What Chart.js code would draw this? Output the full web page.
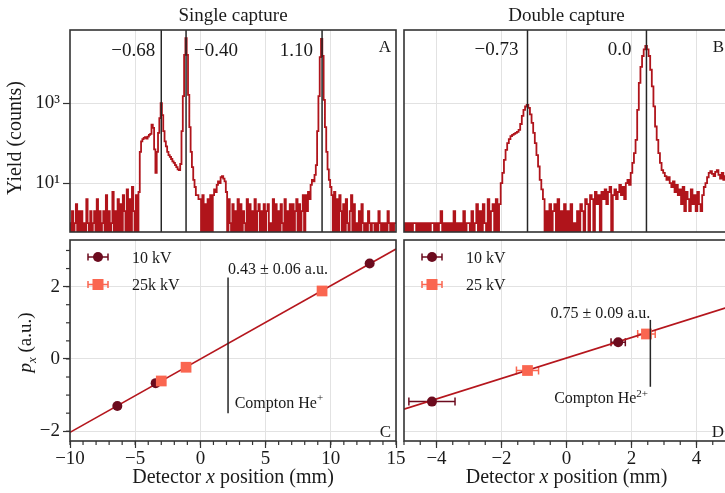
<!DOCTYPE html>
<html>
<head>
<meta charset="utf-8">
<script src="https://cdn.jsdelivr.net/npm/chart.js@4.4.1/dist/chart.umd.min.js"></script>
<style>
  html, body { margin: 0; padding: 0; background: #fff; overflow: hidden; }
  #wrap { position: relative; width: 725px; height: 493px; overflow: hidden; }
  #wrap canvas { position: absolute; left: 0; top: 0; }
</style>
</head>
<body>
<div id="wrap">
  <canvas id="chartA" width="740" height="493"></canvas>
  <canvas id="chartB" width="740" height="493"></canvas>
  <canvas id="chartC" width="740" height="493"></canvas>
  <canvas id="chartD" width="740" height="493"></canvas>
</div>
<script>
// ---- histogram data: first bin centred on binStart ----
const binWidthA = 0.1;
const binStartA = -10;
const countsA = [
  1, 0, 2, 0, 1, 3, 0, 2, 0, 2,            // -10
  0, 1, 0, 4, 1, 0, 2, 0, 1, 2,            // -9
  0, 4, 0, 2, 0, 1, 2, 0, 5, 0,            // -8
  2, 0, 1, 6, 0, 2, 0, 4, 0, 3,            // -7
  0, 5, 2, 0, 7, 0, 4, 0, 8, 2,            // -6
  0, 5, 0, 6, 60, 110, 125, 135, 140, 130, // -5
  145, 160, 170, 290, 240, 70, 18, 60, 180, 420, // -4
  1000, 500, 200, 110, 83, 60, 50, 45, 40, 35,   // -3
  32, 28, 25, 22, 21, 30, 200, 1500, 16000, 42000, // -2
  16000, 1600, 250, 60, 25, 12, 8, 5, 5, 4,  // -1
  4, 0, 5, 0, 3, 0, 4, 0, 5, 0,            // 0
  5, 7, 6, 9, 11, 10, 14, 15, 13, 11,      // 1
  6, 0, 4, 1, 0, 3, 0, 2, 0, 4,            // 2
  0, 3, 0, 2, 1, 0, 4, 0, 3, 0,            // 3
  2, 0, 4, 0, 2, 3, 0, 2, 0, 3,            // 4
  0, 2, 3, 0, 1, 0, 4, 0, 3, 0,            // 5
  2, 0, 3, 1, 0, 4, 0, 2, 0, 3,            // 6
  0, 3, 0, 2, 4, 0, 3, 0, 2, 5,            // 7
  0, 5, 2, 6, 4, 9, 12, 11, 16, 28,        // 8
  200, 1500, 14000, 40000, 15000, 1200, 250, 60, 22, 12, // 9
  8, 5, 0, 6, 0, 4, 0, 5, 2, 0,            // 10
  3, 0, 4, 1, 0, 2, 5, 0, 3, 0,            // 11
  1, 0, 2, 0, 3, 1, 0, 1, 0, 2,            // 12
  1, 0, 1, 1, 0, 1, 0, 2, 1, 0,            // 13
  1, 0, 1, 0, 2, 1, 0, 1, 0, 1, 1          // 14 .. 15
];

const binWidthB = 0.05;
const binStartB = -5;
const countsB = [
  1, 0, 1, 0, 1, 0, 1, 1, 0, 1, 0, 1, 0, 1, 0, 1, 0, 1, 1, 0,   // -5
  1, 0, 1, 2, 0, 1, 0, 1, 0, 1, 0, 2, 0, 1, 0, 1, 0, 2, 0, 1,   // -4
  1, 0, 2, 0, 1, 3, 0, 2, 0, 3, 1, 0, 4, 0, 2, 3, 0, 4, 0, 3,   // -3
  10, 18, 38, 68, 100, 125, 150, 160, 170, 180,
  190, 215, 300, 480, 680, 820, 900, 760, 520, 320,              // -2
  180, 100, 50, 26, 12, 7, 4, 0, 2, 0, 3, 0, 2, 3, 0, 4, 0, 2, 0, 3, // -1
  0, 2, 0, 3, 0, 1, 0, 2, 0, 3, 2, 0, 4, 3, 0, 5, 4, 0, 6, 3,   // 0
  5, 0, 6, 4, 7, 3, 6, 8, 0, 5, 7, 4, 6, 9, 5, 8, 4, 10, 12, 9, // 1
  18, 32, 56, 120, 680, 3200, 8000, 15000, 22000, 27000,
  22000, 15000, 6800, 2600, 830, 260, 120, 56, 32, 21,           // 2
  18, 15, 12, 14, 10, 8, 11, 6, 9, 5, 7, 3, 8, 2, 6, 4, 2, 7, 3, 5, // 3
  2, 6, 3, 2, 5, 8, 10, 14, 18, 20, 17, 15, 19, 21, 16, 13, 18, 12, 15, 11, // 4
  10                                                             // 5
];

// peak positions (mm) and their p_x labels
const peaksA = [-3.0, -1.1, 9.33];
const peakLabelsA = ['\u22120.68', '\u22120.40', '1.10'];
const peaksB = [-1.2, 2.46];
const peakLabelsB = ['\u22120.73', '0.0'];

// axis ticks
const logTicks = [10, 1000];
const logTickLabels = ['10\u00b9', '10\u00b3'];
const gridXA = [-5, 0, 5, 10];
const ticksCx = [-10, -5, 0, 5, 10, 15];
const ticksDx = [-4, -2, 0, 2, 4];
const ticksPy = [-2, 0, 2];

// ---- calibration, single capture ----
const c10x = [-6.37, -3.43, 12.98];
const c10y = [-1.30, -0.67, 2.64];
const c25x = [-3.0, -1.1, 9.33];
const c25y = [-0.61, -0.23, 1.88];
const fitCx = [-10, 15];
const fitCy = [-2.03, 3.04];
const comptonCx = 2.12;
const comptonCy = [-1.5, 2.25];

// ---- calibration, double capture ----
const d10x = [-4.14, 1.59];
const d10y = [-1.18, 0.46];
const d10err = [0.71, 0.22];
const d25x = [-1.2, 2.46];
const d25y = [-0.32, 0.69];
const d25err = [0.34, 0.27];
const fitDx = [-5, 5];
const fitDy = [-1.39, 1.44];
const comptonDx = 2.58;
const comptonDy = [-0.77, 1.08];

// ---- styling ----
const FONT = '"Liberation Serif", "Times New Roman", serif';
const INK = '#1a1a1a';
const FRAME = '#333333';
const GRID = '#e2e2e2';
const HIST = '#b0141b';
const FIT = '#b5161d';
const DARK = '#6c0b1e';
const SALMON = '#fa6650';
const LOG_MIN = 0.6;

Chart.defaults.font.family = FONT;
Chart.defaults.color = INK;
Chart.defaults.animation = false;
Chart.defaults.responsive = false;
Chart.defaults.devicePixelRatio = 1;
Chart.defaults.events = [];
Chart.defaults.plugins.legend.display = false;
Chart.defaults.plugins.tooltip.enabled = false;

const fmt = v => (v < 0 ? '\u2212' : '') + Math.abs(v);
const pts = (xs, ys) => xs.map((x, i) => ({x: x, y: ys[i]}));

function fontFor(flags, size) {
  const small = flags.includes('sub') || flags.includes('sup');
  return (flags.includes('i') ? 'italic ' : '') + (small ? Math.round(size * 0.68) : size) + 'px ' + FONT;
}

// draws a run of text pieces: [text, 'i' | 'sub' | 'sup' ...]
function drawRich(ctx, parts, x, y, align, size) {
  let w = 0;
  parts.forEach(([t, f]) => { ctx.font = fontFor(f, size); w += ctx.measureText(t).width; });
  let cx = align === 'right' ? x - w : align === 'center' ? x - w / 2 : x;
  ctx.textAlign = 'left';
  ctx.textBaseline = 'alphabetic';
  parts.forEach(([t, f]) => {
    ctx.font = fontFor(f, size);
    const dy = f.includes('sup') ? -size * 0.4 : f.includes('sub') ? size * 0.25 : 0;
    ctx.fillText(t, cx, y + dy);
    cx += ctx.measureText(t).width;
  });
}

function minorRange(from, to, step) {
  const out = [];
  for (let v = from; v <= to + 1e-9; v += step) out.push(v);
  return out;
}

const panelDecor = {
  id: 'panelDecor',
  beforeDatasetsDraw(chart, args, o) {
    const {ctx} = chart;
    const sx = chart.scales.x, sy = chart.scales.y;
    ctx.save();
    ctx.lineWidth = 1.5;
    (o.errorBars || []).forEach(set => {
      ctx.strokeStyle = set.color;
      set.x.forEach((xv, i) => {
        const x0 = sx.getPixelForValue(xv - set.err[i]);
        const x1 = sx.getPixelForValue(xv + set.err[i]);
        const py = sy.getPixelForValue(set.y[i]);
        ctx.beginPath();
        ctx.moveTo(x0, py); ctx.lineTo(x1, py);
        ctx.moveTo(x0, py - 4); ctx.lineTo(x0, py + 4);
        ctx.moveTo(x1, py - 4); ctx.lineTo(x1, py + 4);
        ctx.stroke();
      });
    });
    ctx.restore();
  },
  afterDatasetsDraw(chart, args, o) {
    const {ctx, chartArea: a} = chart;
    const sx = chart.scales.x, sy = chart.scales.y;
    ctx.save();

    // vertical marker lines
    ctx.strokeStyle = '#262626';
    ctx.lineWidth = 1.5;
    (o.vlines || []).forEach(v => {
      const px = sx.getPixelForValue(v.x);
      const top = v.y1 === undefined ? a.top : sy.getPixelForValue(v.y1);
      const bot = v.y0 === undefined ? a.bottom : sy.getPixelForValue(v.y0);
      ctx.beginPath(); ctx.moveTo(px, top); ctx.lineTo(px, bot); ctx.stroke();
    });

    // minor ticks
    ctx.strokeStyle = FRAME;
    ctx.lineWidth = 1.2;
    if (o.minorX) minorRange(...o.minorX).forEach(v => {
      const px = sx.getPixelForValue(v);
      ctx.beginPath(); ctx.moveTo(px, a.bottom); ctx.lineTo(px, a.bottom + 4); ctx.stroke();
    });
    if (o.minorY) minorRange(...o.minorY).forEach(v => {
      const py = sy.getPixelForValue(v);
      ctx.beginPath(); ctx.moveTo(a.left - 4, py); ctx.lineTo(a.left, py); ctx.stroke();
    });

    // frame
    ctx.lineWidth = 1.6;
    ctx.strokeRect(a.left, a.top, a.right - a.left, a.bottom - a.top);

    // legend with error-bar markers
    (o.legend || []).forEach((it, i) => {
      const cx = a.left + 28, cy = a.top + 17 + i * 27.5;
      ctx.strokeStyle = it.color; ctx.fillStyle = it.color; ctx.lineWidth = 1.5;
      ctx.beginPath();
      ctx.moveTo(cx - 10, cy); ctx.lineTo(cx + 10, cy);
      ctx.moveTo(cx - 10, cy - 3.5); ctx.lineTo(cx - 10, cy + 3.5);
      ctx.moveTo(cx + 10, cy - 3.5); ctx.lineTo(cx + 10, cy + 3.5);
      ctx.stroke();
      if (it.shape === 'rect') ctx.fillRect(cx - 5.5, cy - 5.5, 11, 11);
      else { ctx.beginPath(); ctx.arc(cx, cy, 5, 0, Math.PI * 2); ctx.fill(); }
      ctx.fillStyle = INK;
      drawRich(ctx, [[it.label, '']], a.left + 62, cy + 5.5, 'left', 16);
    });

    // text labels
    ctx.fillStyle = INK;
    (o.texts || []).forEach(t => {
      let x, y;
      if (t.abs) {
        [x, y] = t.abs;
      } else {
        x = t.x !== undefined ? sx.getPixelForValue(t.x) : (t.edgeX === 'right' ? a.right : a.left);
        y = t.y !== undefined ? sy.getPixelForValue(t.y) : (t.edgeY === 'bottom' ? a.bottom : a.top);
        x += t.dx || 0;
        y += t.dy || 0;
      }
      if (t.rotate) {
        ctx.save();
        ctx.translate(x, y);
        ctx.rotate(-Math.PI / 2);
        drawRich(ctx, t.parts, 0, 0, 'center', t.size);
        ctx.restore();
      } else {
        drawRich(ctx, t.parts, x, y, t.align || 'left', t.size);
      }
    });
    ctx.restore();
  }
};

// empty bins can't sit on a log axis: send them below the floor so the step drops out of the frame
function histDataset(counts, start, width) {
  return {
    data: counts.map((c, i) => ({x: start + i * width, y: c > 0 ? c : LOG_MIN / 4})),
    borderColor: HIST,
    borderWidth: 1.8,
    pointRadius: 0,
    stepped: 'middle',
    fill: false,
    clip: 0
  };
}

function histScales(xMin, xMax, xGrid, showY) {
  return {
    x: {
      type: 'linear', min: xMin, max: xMax,
      afterBuildTicks: s => { s.ticks = xGrid.map(v => ({value: v})); },
      ticks: {display: false},
      grid: {color: GRID, drawTicks: false},
      border: {display: false},
      afterFit: s => { s.height = 0; }
    },
    y: {
      type: 'logarithmic', min: LOG_MIN, max: 67000,
      afterBuildTicks: s => { s.ticks = logTicks.map(v => ({value: v})); },
      ticks: {
        display: showY,
        callback: v => logTickLabels[logTicks.indexOf(v)],
        font: {size: 19, family: FONT}, color: INK, padding: 3
      },
      grid: {color: GRID, drawTicks: showY, tickLength: 7, tickColor: FRAME, tickWidth: 1.2},
      border: {display: false},
      afterFit: s => { s.width = showY ? 70 : 0; }
    }
  };
}

function calibScales(xMin, xMax, xTicks, showY) {
  return {
    x: {
      type: 'linear', min: xMin, max: xMax,
      afterBuildTicks: s => { s.ticks = xTicks.map(v => ({value: v})); },
      ticks: {callback: fmt, font: {size: 19, family: FONT}, color: INK, padding: 0, maxRotation: 0, autoSkip: false},
      grid: {color: GRID, tickLength: 7, tickColor: FRAME, tickWidth: 1.2},
      border: {display: false},
      afterFit: s => { s.height = 52; }
    },
    y: {
      type: 'linear', min: -2.27, max: 3.29,
      afterBuildTicks: s => { s.ticks = ticksPy.map(v => ({value: v})); },
      ticks: {display: showY, callback: fmt, font: {size: 19, family: FONT}, color: INK, padding: 3},
      grid: {color: GRID, drawTicks: showY, tickLength: 7, tickColor: FRAME, tickWidth: 1.2},
      border: {display: false},
      afterFit: s => { s.width = showY ? 70 : 0; }
    }
  };
}

// ---- A: single capture spectrum ----
new Chart(document.getElementById('chartA'), {
  type: 'line',
  data: {datasets: [histDataset(countsA, binStartA, binWidthA)]},
  options: {
    layout: {padding: {left: 0, top: 30, right: 344, bottom: 261}},
    scales: histScales(-10, 15, gridXA, true),
    plugins: {
      panelDecor: {
        vlines: peaksA.map(x => ({x: x})),
        texts: [
          {abs: [233, 21], parts: [['Single capture', '']], align: 'center', size: 19},
          {abs: [20.6, 138], parts: [['Yield (counts)', '']], rotate: true, size: 20},
          {x: peaksA[0], dx: -6, dy: 26, parts: [[peakLabelsA[0], '']], align: 'right', size: 19},
          {x: peaksA[1], dx: 8, dy: 26, parts: [[peakLabelsA[1], '']], align: 'left', size: 19},
          {x: peaksA[2], dx: -9, dy: 26, parts: [[peakLabelsA[2], '']], align: 'right', size: 19},
          {edgeX: 'right', dx: -5, dy: 22, parts: [['A', '']], align: 'right', size: 17}
        ]
      }
    }
  },
  plugins: [panelDecor]
});

// ---- B: double capture spectrum ----
new Chart(document.getElementById('chartB'), {
  type: 'line',
  data: {datasets: [histDataset(countsB, binStartB, binWidthB)]},
  options: {
    layout: {padding: {left: 404, top: 30, right: 11, bottom: 261}},
    scales: histScales(-5, 5, ticksDx, false),
    plugins: {
      panelDecor: {
        vlines: peaksB.map(x => ({x: x})),
        texts: [
          {abs: [566.5, 21], parts: [['Double capture', '']], align: 'center', size: 19},
          {x: peaksB[0], dx: -9, dy: 25, parts: [[peakLabelsB[0], '']], align: 'right', size: 19},
          {x: peaksB[1], dx: -15, dy: 25, parts: [[peakLabelsB[1], '']], align: 'right', size: 19},
          {edgeX: 'right', dx: -5, dy: 22, parts: [['B', '']], align: 'right', size: 17}
        ]
      }
    }
  },
  plugins: [panelDecor]
});

// ---- C: p_x calibration, single capture ----
new Chart(document.getElementById('chartC'), {
  type: 'scatter',
  data: {
    datasets: [
      {data: pts(c25x, c25y), pointStyle: 'rect', pointRadius: 7.6, backgroundColor: SALMON, borderWidth: 0, order: 1},
      {data: pts(c10x, c10y), pointStyle: 'circle', pointRadius: 5, backgroundColor: DARK, borderWidth: 0, order: 2},
      {data: pts(fitCx, fitCy), showLine: true, borderColor: FIT, borderWidth: 1.6, pointRadius: 0, order: 3}
    ]
  },
  options: {
    layout: {padding: {left: 0, top: 240, right: 344, bottom: 0}},
    scales: calibScales(-10, 15, ticksCx, true),
    plugins: {
      panelDecor: {
        vlines: [{x: comptonCx, y0: comptonCy[0], y1: comptonCy[1]}],
        minorX: [-10, 15, 1],
        minorY: [-2, 3, 0.5],
        legend: [
          {label: '10 kV', color: DARK, shape: 'circle'},
          {label: '25k kV', color: SALMON, shape: 'rect'}
        ],
        texts: [
          {abs: [31, 342.5], parts: [['p', 'i'], ['x', 'i sub'], [' (a.u.)', '']], rotate: true, size: 19},
          {abs: [233, 483], parts: [['Detector ', ''], ['x', 'i'], [' position (mm)', '']], align: 'center', size: 20},
          {x: comptonCx, y: 2.35, parts: [['0.43 \u00b1 0.06 a.u.', '']], align: 'left', size: 16},
          {x: 2.63, y: -1.35, parts: [['Compton He', ''], ['+', 'sup']], align: 'left', size: 16},
          {edgeX: 'right', edgeY: 'bottom', dx: -5, dy: -4, parts: [['C', '']], align: 'right', size: 17}
        ]
      }
    }
  },
  plugins: [panelDecor]
});

// ---- D: p_x calibration, double capture ----
new Chart(document.getElementById('chartD'), {
  type: 'scatter',
  data: {
    datasets: [
      {data: pts(d25x, d25y), pointStyle: 'rect', pointRadius: 7.6, backgroundColor: SALMON, borderWidth: 0, order: 1},
      {data: pts(d10x, d10y), pointStyle: 'circle', pointRadius: 5, backgroundColor: DARK, borderWidth: 0, order: 2},
      {data: pts(fitDx, fitDy), showLine: true, borderColor: FIT, borderWidth: 1.6, pointRadius: 0, order: 3}
    ]
  },
  options: {
    layout: {padding: {left: 404, top: 240, right: 11, bottom: 0}},
    scales: calibScales(-5, 5, ticksDx, false),
    plugins: {
      panelDecor: {
        errorBars: [
          {x: d10x, y: d10y, err: d10err, color: DARK},
          {x: d25x, y: d25y, err: d25err, color: SALMON}
        ],
        vlines: [{x: comptonDx, y0: comptonDy[0], y1: comptonDy[1]}],
        minorX: [-5, 5, 0.5],
        legend: [
          {label: '10 kV', color: DARK, shape: 'circle'},
          {label: '25 kV', color: SALMON, shape: 'rect'}
        ],
        texts: [
          {abs: [566.5, 483], parts: [['Detector ', ''], ['x', 'i'], [' position (mm)', '']], align: 'center', size: 20},
          {x: comptonDx, y: 1.13, parts: [['0.75 \u00b1 0.09 a.u.', '']], align: 'right', size: 16},
          {x: 2.51, y: -1.22, parts: [['Compton He', ''], ['2+', 'sup']], align: 'right', size: 16},
          {edgeX: 'right', edgeY: 'bottom', dx: -5, dy: -4, parts: [['D', '']], align: 'right', size: 17}
        ]
      }
    }
  },
  plugins: [panelDecor]
});
</script>
</body>
</html>
